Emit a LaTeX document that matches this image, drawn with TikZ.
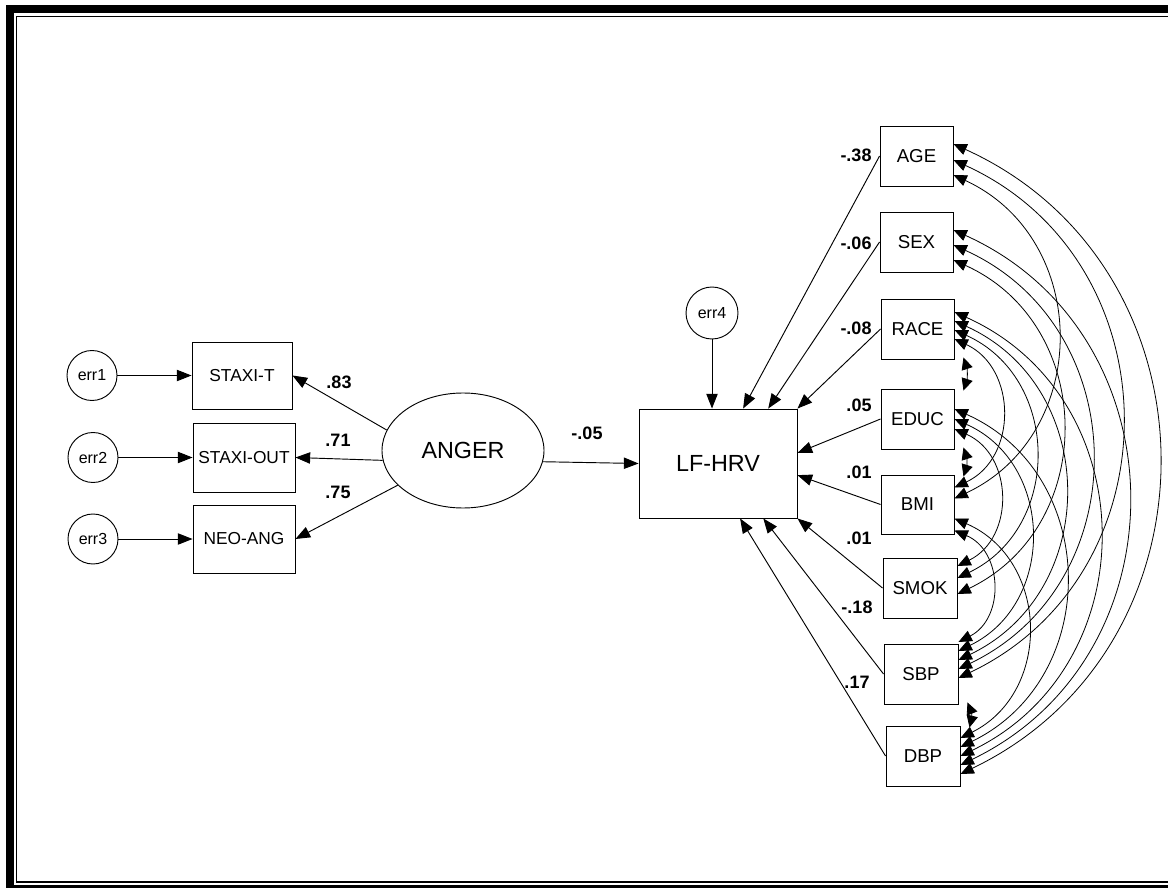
\documentclass[tikz,border=0pt]{standalone}
\usepackage{fontspec}
\setmainfont{Liberation Sans}
\usetikzlibrary{arrows.meta,shapes.geometric,calc}
\begin{document}
\begin{tikzpicture}[x=0.75pt,y=-0.75pt,
  box/.style={draw, line width=0.7pt, inner sep=0pt, font=\fontsize{13}{15}\selectfont},
  rbox/.style={box, minimum width=54.75pt, minimum height=45pt, font=\fontsize{14}{16}\selectfont},
  err/.style={draw, circle, line width=0.7pt, inner sep=0pt, minimum size=37.5pt, font=\fontsize{12}{14}\selectfont},
  lbl/.style={font=\bfseries\fontsize{13.5}{15}\selectfont, inner sep=0pt},
  path/.style={line width=0.7pt, -{Triangle[length=11pt,width=8.5pt]}},
  cov/.style={line width=0.6pt, {Triangle[length=10pt,width=8.5pt]}-{Triangle[length=10pt,width=8.5pt]}, bend left=65, looseness=1.2},
  shortcov/.style={line width=0.6pt, {Triangle[length=9pt,width=8.5pt]}-{Triangle[length=9pt,width=8.5pt]}, bend left=18},
]
\useasboundingbox (0,0) rectangle (1168,888);
\clip (0,0) rectangle (1168,888);
\fill[white] (0,0) rectangle (1168,888);
% frame
\draw[line width=6pt] (10,9) rectangle (1180,889);
\draw[line width=1.3pt] (16.5,16.5) rectangle (1175,882);

% left part
\node[box, minimum width=75pt, minimum height=50.25pt] (stt) at (242,375.5) {STAXI-T};
\node[box, minimum width=76.5pt, minimum height=51.75pt] (sto) at (244,457.5) {STAXI-OUT};
\node[box, minimum width=76.5pt, minimum height=51pt] (neo) at (244,539) {NEO-ANG};
\node[err] (e1) at (92,375.5) {err1};
\node[err] (e2) at (93,457.5) {err2};
\node[err] (e3) at (93,539) {err3};
\node[draw, ellipse, line width=0.7pt, inner sep=0pt, minimum width=121.5pt, minimum height=86.25pt, font=\fontsize{17.5}{20}\selectfont] (anger) at (463,450.5) {ANGER};
\node[box, minimum width=118.5pt, minimum height=81.75pt, font=\fontsize{17.5}{20}\selectfont] (lf) at (718,463.5) {LF-HRV};
\node[err, minimum size=39pt] (e4) at (712,313) {err4};

\draw[path] (e1) -- (stt);
\draw[path] (e2) -- (sto);
\draw[path] (e3) -- (neo);
\draw[path] (anger.165) -- (stt.east);
\draw[path] (anger.187) -- (sto.east);
\draw[path] (anger.208) -- (neo.east);
\draw[path] (anger.352) -- (lf.west);
\draw[path] (e4.south) -- (e4.south |- lf.north);

\node[lbl] (l83) at (339,382) {.83};
\node[lbl] (l71) at (338,440) {.71};
\node[lbl] (l75) at (338,492) {.75};
\node[lbl] (l05) at (587,433) {-.05};

% right part
\node[rbox] (age) at (916.5,156) {AGE};
\node[rbox] (sex) at (916.5,242) {SEX};
\node[rbox] (race) at (917.5,329) {RACE};
\node[rbox] (educ) at (917.5,419) {EDUC};
\node[rbox, minimum height=44.25pt] (bmi) at (917.5,504.5) {BMI};
\node[rbox, minimum width=55.5pt] (smok) at (920,588) {SMOK};
\node[rbox, minimum width=55.5pt] (sbp) at (921,674) {SBP};
\node[rbox, minimum width=55.5pt] (dbp) at (923,756) {DBP};

\draw[path] (age.west) -- ($(lf.north west)!0.658!(lf.north east)$);
\draw[path] (sex.west) -- ($(lf.north west)!0.816!(lf.north east)$);
\draw[path] (race.west) -- (lf.north east);
\draw[path] (educ.west) -- ($(lf.north east)!0.404!(lf.south east)$);
\draw[path] (bmi.west) -- ($(lf.north east)!0.606!(lf.south east)$);
\draw[path] (smok.west) -- (lf.south east);
\draw[path] (sbp.west) -- ($(lf.south west)!0.785!(lf.south east)$);
\draw[path] (dbp.west) -- ($(lf.south west)!0.639!(lf.south east)$);

\node[lbl] (l38) at (856,155) {-.38};
\node[lbl] (l06) at (856,243) {-.06};
\node[lbl] (l08) at (856,328) {-.08};
\node[lbl] (l05b) at (859,405) {.05};
\node[lbl] (l01a) at (859,472) {.01};
\node[lbl] (l01b) at (859,538) {.01};
\node[lbl] (l18) at (857,607) {-.18};
\node[lbl] (l17) at (857,682) {.17};

% covariances
\draw[cov] ($(age.east)+(0,-12)$) to ($(dbp.east)+(0,18)$);
\draw[cov] ($(age.east)+(0,4)$) to ($(sbp.east)+(0,4)$);
\draw[cov] ($(age.east)+(0,19)$) to ($(bmi.east)+(0,-6)$);
\draw[cov] ($(sex.east)+(0,-12)$) to ($(dbp.east)+(0,9)$);
\draw[cov] ($(sex.east)+(0,3)$) to ($(sbp.east)+(0,-5)$);
\draw[cov] ($(sex.east)+(0,18)$) to ($(smok.east)+(0,6)$);
\draw[cov] ($(race.east)+(0,-17)$) to ($(dbp.east)+(0,0)$);
\draw[cov] ($(race.east)+(0,-8)$) to ($(sbp.east)+(0,-14)$);
\draw[cov] ($(race.east)+(0,1)$) to ($(smok.east)+(0,-10)$);
\draw[cov] ($(race.east)+(0,10)$) to ($(bmi.east)+(0,-17)$);
\draw[cov] ($(educ.east)+(0,-10)$) to ($(dbp.east)+(0,-9)$);
\draw[cov] ($(educ.east)+(0,0)$) to ($(sbp.east)+(0,-23)$);
\draw[cov] ($(educ.east)+(0,10)$) to ($(smok.east)+(0,-22)$);
\draw[cov] ($(bmi.east)+(0,14)$) to ($(dbp.east)+(0,-18)$);
\draw[cov] ($(bmi.east)+(0,26)$) to ($(sbp.east)+(0,-32)$);
\draw[shortcov] ($(race.south east)+(9,-2)$) to ($(educ.north east)+(9,2)$);
\draw[shortcov] ($(educ.south east)+(9,-2)$) to ($(bmi.north east)+(9,2)$);
\draw[shortcov] ($(sbp.south east)+(9,-2)$) to ($(dbp.north east)+(9,2)$);
\end{tikzpicture}
\end{document}
